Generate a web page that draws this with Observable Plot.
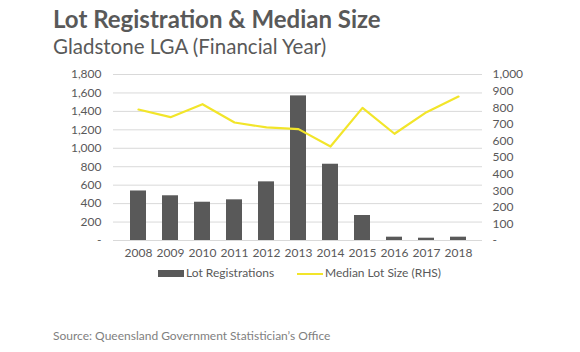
<!DOCTYPE html>
<html>
<head>
<meta charset="utf-8">
<script src="https://cdn.jsdelivr.net/npm/d3@7"></script>
<script src="https://cdn.jsdelivr.net/npm/@observablehq/plot@0.6"></script>
<style>
  html, body { margin: 0; padding: 0; background: #fff; }
  body { width: 580px; height: 352px; position: relative; font-family: Lato, "Open Sans", sans-serif; overflow: hidden; }
  #title { position: absolute; left: 53px; top: 4px; font-size: 24px; font-weight: bold; color: #595959; white-space: nowrap; }
  #subtitle { position: absolute; left: 53px; top: 34px; font-size: 20.5px; color: #595959; white-space: nowrap; }
  #chart { position: absolute; left: 0; top: 60px; }
  #legend { position: absolute; left: 0; top: 265px; width: 580px; font-size: 12px; color: #595959; }
  .item { position: absolute; top: 0; white-space: nowrap; }
  .sw { display: inline-block; vertical-align: middle; width: 26px; margin-right: 2px; }
  #source { position: absolute; left: 53px; top: 328px; font-size: 12px; color: #7f7f7f; white-space: nowrap; }
</style>
</head>
<body>
<div id="title">Lot Registration &amp; Median Size</div>
<div id="subtitle">Gladstone LGA (Financial Year)</div>
<div id="chart"></div>
<div id="legend">
  <span class="item" style="left:158px"><span class="sw" style="height:7px;background:#595959"></span>Lot Registrations</span>
  <span class="item" style="left:297px"><span class="sw" style="height:2px;background:#f2e52a"></span>Median Lot Size (RHS)</span>
</div>
<div id="source">Source: Queensland Government Statistician’s Office</div>
<script>
const years = ["2008","2009","2010","2011","2012","2013","2014","2015","2016","2017","2018"];
const lotRegistrations = [537, 485, 415, 441, 636, 1568, 827, 271, 36, 25, 36];
const medianLotSize = [789, 743, 821, 711, 681, 671, 566, 799, 643, 773, 867];
const leftTicks = [0, 200, 400, 600, 800, 1000, 1200, 1400, 1600, 1800];
const rightTicks = [0, 100, 200, 300, 400, 500, 600, 700, 800, 900, 1000];

const ratio = 1800 / 1000;
const data = years.map((y, i) => ({year: y, lots: lotRegistrations[i], median: medianLotSize[i], medianScaled: medianLotSize[i] * ratio}));
const fmt = d3.format(",");

const chart = Plot.plot({
  width: 580,
  height: 210,
  marginTop: 14,
  marginBottom: 30,
  marginLeft: 113,
  marginRight: 98,
  style: {fontFamily: "Lato, 'Open Sans', sans-serif", fontSize: "12px", color: "#595959", background: "transparent"},
  x: {domain: years, padding: 0.5, label: null},
  y: {domain: [0, 1800], label: null},
  marks: [
    Plot.ruleY(leftTicks.filter(d => d > 0), {stroke: "#d9d9d9", strokeWidth: 1}),
    Plot.barY(data, {x: "year", y: "lots", fill: "#595959"}),
    Plot.ruleY([0], {stroke: "#d9d9d9", strokeWidth: 1}),
    Plot.line(data, {x: "year", y: "medianScaled", stroke: "#f2e52a", strokeWidth: 2.2}),
    Plot.axisX({tickSize: 0, tickPadding: 8, label: null, fill: "#595959"}),
    Plot.axisY({ticks: leftTicks, tickSize: 0, tickPadding: 12, label: null, tickFormat: d => d === 0 ? "-" : fmt(d), fill: "#595959"}),
    Plot.axisY({anchor: "right", ticks: rightTicks.map(d => d * ratio), tickSize: 0, tickPadding: 10, label: null, textAnchor: "start", tickFormat: d => { const v = Math.round(d / ratio); return v === 0 ? "-" : fmt(v); }, fill: "#595959"})
  ]
});
document.getElementById("chart").appendChild(chart);
</script>
</body>
</html>
